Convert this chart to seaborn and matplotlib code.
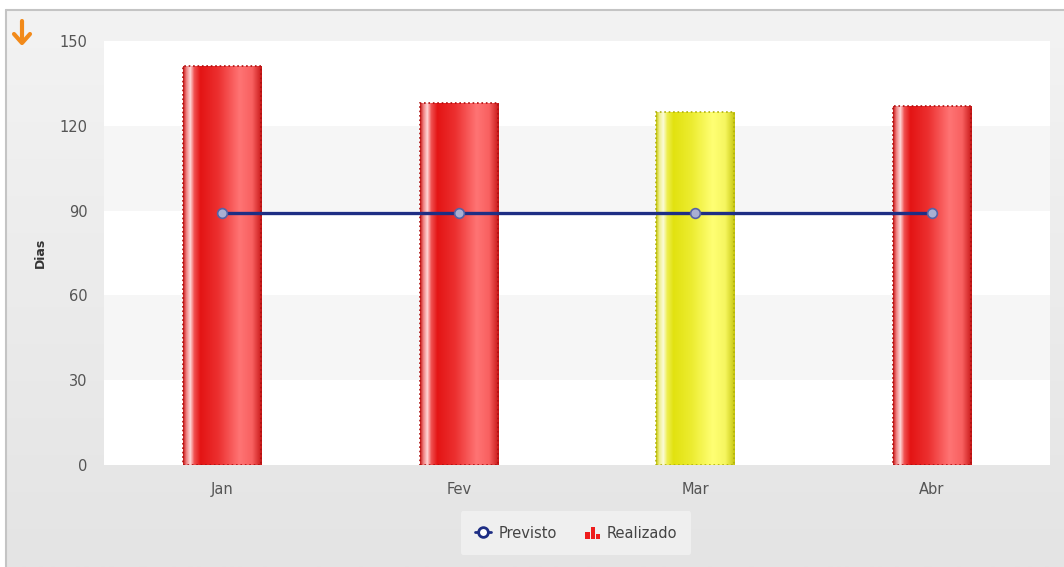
import numpy as np
import matplotlib
matplotlib.use("Agg")
import matplotlib.pyplot as plt
import seaborn as sns
from matplotlib.colors import LinearSegmentedColormap
from matplotlib.lines import Line2D
from matplotlib.patches import Rectangle, Patch
from matplotlib.legend_handler import HandlerBase

# data
meses = ["Jan", "Fev", "Mar", "Abr"]
realizado = [141, 128, 125, 127]
previsto = [89, 89, 89, 89]
status = ["red", "red", "yellow", "red"]
y_ticks = [0, 30, 60, 90, 120, 150]

sns.set_style("white")
plt.rcParams["font.family"] = ["DejaVu Sans"]

W, H = 1064, 567
fig = plt.figure(figsize=(W / 100, H / 100), dpi=100)
fig.patch.set_facecolor("white")

# grey gradient panel behind everything
bg = fig.add_axes([6 / W, 0, 1, 557 / H], zorder=-10)
bg.imshow(np.linspace(0, 1, 256).reshape(-1, 1), aspect="auto",
          cmap=LinearSegmentedColormap.from_list("bg", ["#f3f3f3", "#e4e4e4"]),
          extent=[0, 1, 0, 1])
bg.set_axis_off()
fig.add_artist(Line2D([6 / W, 6 / W], [0, 557 / H], color="#c4c4c4", lw=1.5))
fig.add_artist(Line2D([6 / W, 1], [557 / H, 557 / H], color="#c4c4c4", lw=1.5))

ax = fig.add_axes([104 / W, 102 / H, 946 / W, 424 / H])
ax.set_facecolor("white")

# alternating bands
for i in range(len(y_ticks) - 1):
    if i % 2 == 1:
        ax.axhspan(y_ticks[i], y_ticks[i + 1], color="#f6f6f6", lw=0, zorder=0)

sns.barplot(x=meses, y=realizado, width=0.33, color="#e51a1a", ax=ax, zorder=2)

cmaps = {
    "red": LinearSegmentedColormap.from_list("r", [
        (0.0, "#c81818"), (0.04, "#f08080"), (0.09, "#ffd8d8"), (0.14, "#f05050"),
        (0.22, "#e41414"), (0.45, "#ec3030"), (0.72, "#ff7474"), (0.88, "#f86060"),
        (1.0, "#c81818")]),
    "yellow": LinearSegmentedColormap.from_list("y", [
        (0.0, "#c8c810"), (0.04, "#f0f090"), (0.09, "#fbfbd8"), (0.14, "#eeee50"),
        (0.22, "#e2e210"), (0.45, "#ecec30"), (0.72, "#ffff74"), (0.88, "#f6f660"),
        (1.0, "#c8c810")]),
}
edges = {"red": "#b01010", "yellow": "#b0b010"}
grad = np.linspace(0, 1, 200).reshape(1, -1)

for patch, st in zip(ax.containers[0], status):
    x, w, h = patch.get_x(), patch.get_width(), patch.get_height()
    im = ax.imshow(grad, extent=[x, x + w, 0, h], aspect="auto",
                   cmap=cmaps[st], zorder=2.5)
    im.set_clip_path(patch)
    patch.set_facecolor("none")
    patch.set_edgecolor(edges[st])
    patch.set_linestyle(":")
    patch.set_linewidth(1.2)
    patch.set_zorder(3)

sns.pointplot(x=meses, y=previsto, ax=ax, color="#1e2e84", linewidth=2.4,
              marker="o", markersize=7, markerfacecolor="#a9afd2",
              markeredgecolor="#5562a6", markeredgewidth=1.2, zorder=4)

ax.set_xlim(-0.5, 3.5)
ax.set_ylim(0, 150)
ax.set_yticks(y_ticks)
ax.set_xlabel("")
ax.set_ylabel("Dias", fontsize=9, fontweight="bold", color="#333333", labelpad=9)
ax.tick_params(axis="both", length=0, labelsize=10.5, labelcolor="#555555")
ax.tick_params(axis="x", pad=12)
ax.tick_params(axis="y", pad=12)
for s in ax.spines.values():
    s.set_visible(False)

# orange arrow top left
arrow_kw = dict(color="#f28a1a", lw=3.0, solid_capstyle="round", solid_joinstyle="round")
fig.add_artist(Line2D([22 / W, 22 / W], [1 - 21 / H, 1 - 42 / H], **arrow_kw))
fig.add_artist(Line2D([14 / W, 22 / W, 30 / W], [1 - 34 / H, 1 - 43 / H, 1 - 34 / H], **arrow_kw))


class BarIcon(HandlerBase):
    def create_artists(self, legend, orig, xd, yd, w, h, fontsize, trans):
        arts = []
        bw = w / 3.6
        for i, f in enumerate([0.7, 1.2, 0.5]):
            arts.append(Rectangle((-xd + w * 0.15 + i * bw * 1.15, -yd - 1), bw, h * f,
                                  facecolor="#ee1c1c", edgecolor="none", transform=trans))
        return arts


prev_h = Line2D([], [], color="#1e2e84", lw=2, marker="o", markersize=7,
                markerfacecolor="white", markeredgecolor="#1e2e84", markeredgewidth=2)
real_h = Patch(facecolor="#ee1c1c")
leg = fig.legend([prev_h, real_h], ["Previsto", "Realizado"],
                 handler_map={Patch: BarIcon()},
                 loc="center", bbox_to_anchor=(576 / W, 34 / H), ncol=2,
                 fontsize=10.5, frameon=True, fancybox=True, handlelength=1.1,
                 handletextpad=0.5, columnspacing=1.8, borderpad=1.0,
                 borderaxespad=0)
leg.get_frame().set_facecolor("#f2f2f2")
leg.get_frame().set_edgecolor("none")
for t in leg.get_texts():
    t.set_color("#444444")

fig.savefig("out.png", dpi=100)
